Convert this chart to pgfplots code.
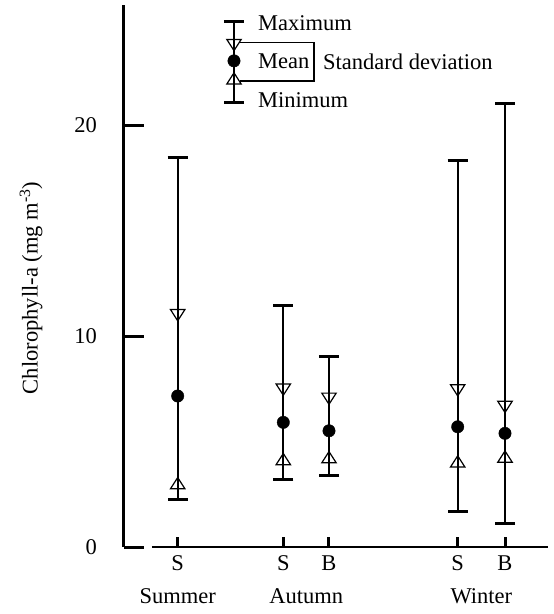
\documentclass[border=0pt]{standalone}
\usepackage{fontspec}
\setmainfont{Liberation Serif}
\usepackage{pgfplots}
\pgfplotsset{compat=1.18}
\usepackage{pgfplotstable}

% station positions along the axis, then max, mean+sd, mean, mean-sd, min
\pgfplotstableread{
x     maxv  upper mean lower minv
177.7 18.47 11.08 7.16 2.94 2.26
283.3 11.47 7.55  5.91 4.08 3.21
329.0 9.02  7.12  5.51 4.17 3.38
457.7 18.31 7.52  5.70 3.97 1.67
505.0 21.03 6.73  5.39 4.20 1.12
}\chl

% the key drawn at the top
\pgfplotstableread{
x     maxv  upper mean  lower minv
234.0 24.94 23.89 23.05 22.13 21.07
}\key

\pgfplotsset{
  rng/.style={only marks, mark=none,
    error bars/.cd, y dir=both, y explicit,
    error bar style={line width=2pt, black},
    error mark=-, error mark options={rotate=90, line width=3pt, mark size=10pt, black}},
  dn/.style={only marks, mark=triangle, mark size=8.3pt,
    mark options={rotate=180, yscale=0.9, fill=white, draw=black, line width=1.2pt}},
  up/.style={only marks, mark=triangle, mark size=8.3pt,
    mark options={yscale=0.9, fill=white, draw=black, line width=1.2pt}},
  mn/.style={only marks, mark=*, mark size=6.2pt, mark options={fill=black, draw=black}},
}

\begin{document}
\fontsize{22.5}{27}\selectfont
\begin{tikzpicture}
\path[use as bounding box] (0,0) rectangle (554pt,614pt);
\begin{axis}[
    scale only axis, width=424pt, height=542pt,
    at={(124pt,67pt)}, anchor=south west,
    xmin=124, xmax=548, ymin=0, ymax=25.7,
    axis y line*=left, axis x line*=bottom,
    axis line style={-, black},
    x axis line style={draw=none},
    y axis line style={line width=3pt},
    clip=false,
    tick align=inside,
    xtick={177.7,283.3,329,457.7,505}, xticklabels={S,S,B,S,B},
    xtick style={black, line width=3pt, /pgfplots/major tick length=10pt},
    xticklabel style={anchor=north, inner sep=0pt, yshift=-8.5pt},
    extra x ticks={177.7,306.2,481.4},
    extra x tick labels={Summer,Autumn,Winter},
    extra x tick style={xtick style={draw=none, /pgfplots/major tick length=0pt},
        xticklabel style={yshift=-33pt}},
    ytick={0,10,20},
    ytick style={black, line width=3pt, /pgfplots/major tick length=20pt},
    yticklabel style={anchor=east, inner sep=0pt, xshift=-27pt},
    /pgf/number format/assume math mode=true,
    ylabel={Chlorophyll-a (mg m\textsuperscript{-3})},
    ylabel style={at={(axis description cs:-0.219,0.478)}, anchor=center},
]
\draw[line width=2.5pt] (axis cs:124,0) -- (axis cs:141,0);
\draw[line width=2.5pt] (axis cs:152,0) -- (axis cs:548,0);

\addplot[rng] table[x=x, y=mean,
    y error plus expr=\thisrow{maxv}-\thisrow{mean},
    y error minus expr=\thisrow{mean}-\thisrow{minv}] {\chl};
\addplot[dn] table[x=x, y=upper] {\chl};
\addplot[up] table[x=x, y=lower] {\chl};
\addplot[mn] table[x=x, y=mean] {\chl};

% key
\draw[line width=1.3pt] (axis cs:240,23.92) -- (axis cs:314,23.92)
    -- (axis cs:314,22.09) -- (axis cs:240,22.09);
\addplot[rng] table[x=x, y=mean,
    y error plus expr=\thisrow{maxv}-\thisrow{mean},
    y error minus expr=\thisrow{mean}-\thisrow{minv}] {\key};
\addplot[dn] table[x=x, y=upper] {\key};
\addplot[up] table[x=x, y=lower] {\key};
\addplot[mn] table[x=x, y=mean] {\key};
\node[anchor=west, inner sep=0pt] at (axis cs:258,24.84) {Maximum};
\node[anchor=west, inner sep=0pt] at (axis cs:258,23.03) {Mean};
\node[anchor=west, inner sep=0pt] at (axis cs:323,23.03) {Standard deviation};
\node[anchor=west, inner sep=0pt] at (axis cs:258,21.2) {Minimum};
\end{axis}
\end{tikzpicture}
\end{document}
